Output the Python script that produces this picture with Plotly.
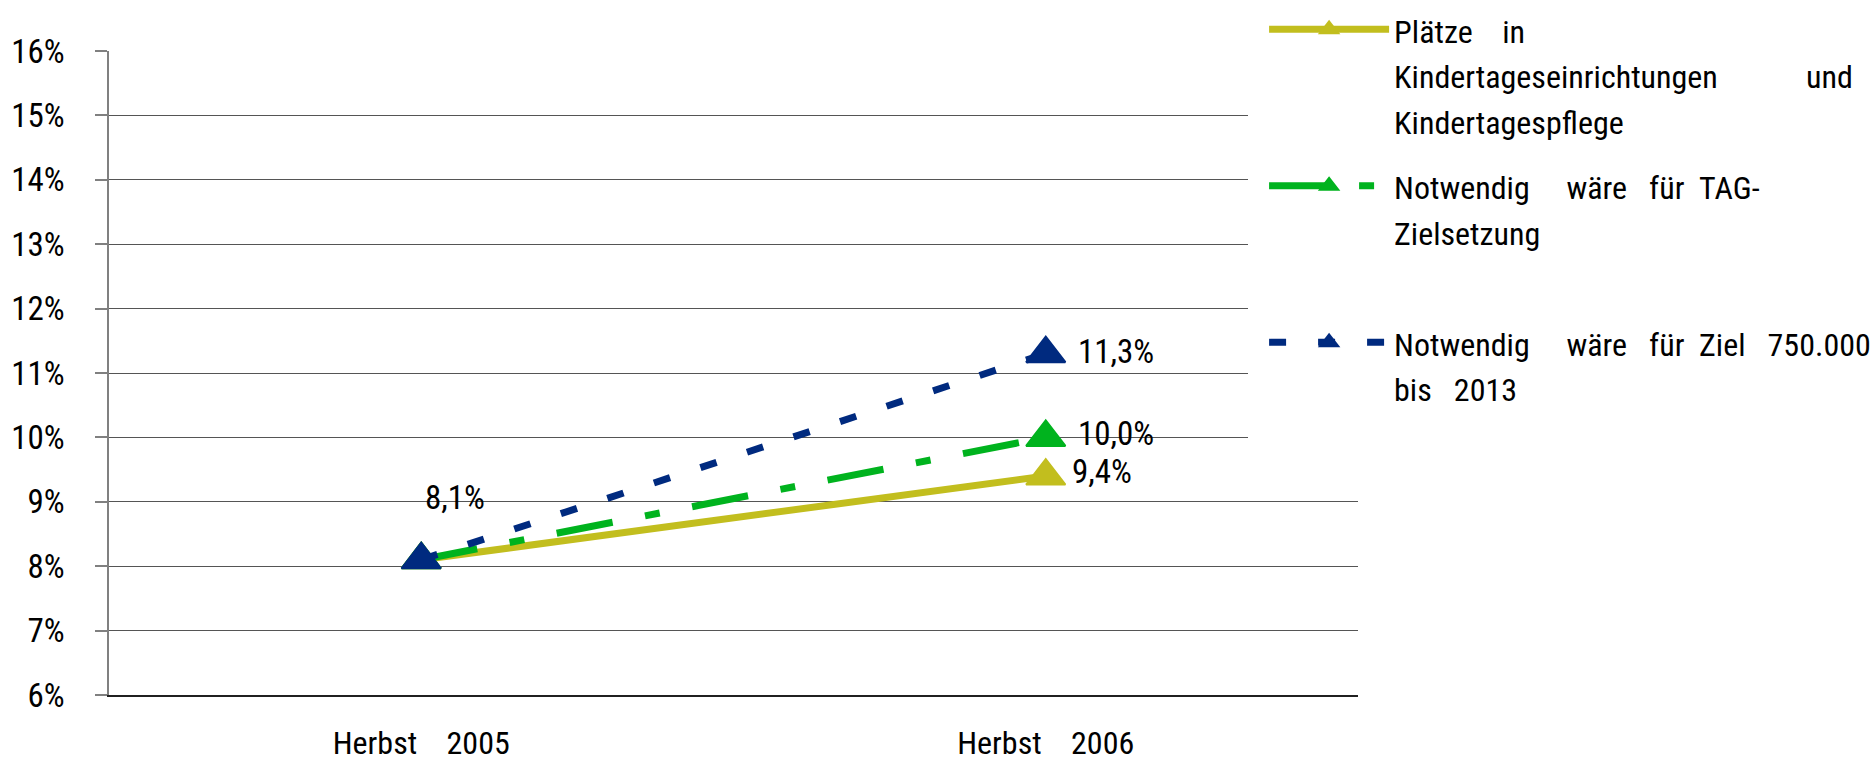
import plotly.graph_objects as go

# ---- data ----
categories = ["Herbst    2005", "Herbst    2006"]
plaetze = [8.1, 9.4]          # Plätze in Kindertageseinrichtungen und Kindertagespflege
tag_ziel = [8.1, 10.0]        # Notwendig wäre für TAG-Zielsetzung
ziel_750 = [8.1, 11.3]        # Notwendig wäre für Ziel 750.000 bis 2013
y_ticks = [6, 7, 8, 9, 10, 11, 12, 13, 14, 15, 16]

NB = "\u00a0"
legend_lines = {
    "plaetze": ["Plätze" + NB * 4 + "in",
                "Kindertageseinrichtungen" + NB * 12 + "und",
                "Kindertagespflege"],
    "tag": ["Notwendig" + NB * 5 + "wäre" + NB * 3 + "für" + NB * 2 + "TAG-",
            "Zielsetzung",
            NB],
    "ziel": ["Notwendig" + NB * 5 + "wäre" + NB * 3 + "für" + NB * 2 + "Ziel" +
             NB * 3 + "750.000",
             "bis" + NB * 3 + "2013",
             NB],
}


def legend_name(lines, px=32):
    # glyphs at px, line spacing taken from the (larger) legend font
    return "<br>".join(f'<span style="font-size:{px}px">{ln}</span>' for ln in lines)


FONT = "Roboto Condensed, Liberation Sans, Arial, sans-serif"
YELLOW = "#C2BE1E"
GREEN = "#00B31E"
NAVY = "#002A7F"

fig = go.Figure()

series = [
    (legend_name(legend_lines["plaetze"]), plaetze, YELLOW, "solid", "g1"),
    (legend_name(legend_lines["tag"]), tag_ziel, GREEN, "57px,33px,15px,33px", "g2"),
    (legend_name(legend_lines["ziel"]), ziel_750, NAVY, "17px,32px", "g3"),
]
for name, vals, col, dash, grp in series:
    fig.add_trace(go.Scatter(
        x=categories, y=vals, name=name, mode="lines+markers",
        legendgroup=grp,
        line=dict(color=col, width=7, dash=dash),
        marker=dict(symbol="triangle-up", size=34, color=col,
                    line=dict(color=col, width=2)),
        hoverinfo="skip",
    ))


def fmt(v):
    return f"{v:.1f}%".replace(".", ",")


fig.add_annotation(x=categories[0], y=ziel_750[0], text=fmt(ziel_750[0]),
                   showarrow=False, xanchor="left", yanchor="middle",
                   xshift=2, yshift=62, font=dict(family=FONT, size=33, color="black"))
for vals, dx, dy in [(ziel_750, 30, 2), (tag_ziel, 30, 4), (plaetze, 24, 5)]:
    fig.add_annotation(x=categories[1], y=vals[1], text=fmt(vals[1]),
                       showarrow=False, xanchor="left", yanchor="middle",
                       xshift=dx, yshift=dy, font=dict(family=FONT, size=33, color="black"))

fig.update_layout(
    width=1874, height=766,
    margin=dict(l=109, r=516, t=51, b=71, autoexpand=False),
    paper_bgcolor="white", plot_bgcolor="white",
    font=dict(family=FONT, size=32, color="black"),
    showlegend=True,
    legend=dict(
        x=0.912, xanchor="left", y=1.104, yanchor="top",
        bgcolor="white", bordercolor="white", borderwidth=16,
        font=dict(family=FONT, size=35, color="black"),
        itemwidth=120, valign="top", tracegroupgap=17, maxheight=740,
    ),
    xaxis=dict(
        type="category", range=[-0.5, 1.5],
        tickmode="array", tickvals=categories,
        ticktext=[c.replace(" ", NB) for c in categories],
        showgrid=False, zeroline=False,
        showline=True, linecolor="#202020", linewidth=1.5,
        ticks="", ticklabelstandoff=19,
        tickfont=dict(family=FONT, size=32, color="black"),
    ),
    yaxis=dict(
        range=[6, 16], tickmode="array", tickvals=y_ticks,
        ticktext=[f"{t}%" for t in y_ticks],
        showgrid=True, gridcolor="#555555", gridwidth=1.3,
        zeroline=False, showline=True, linecolor="#808080", linewidth=1.5,
        ticks="outside", ticklen=12, tickcolor="#808080", tickwidth=1.5,
        ticklabelstandoff=24,
        tickfont=dict(family=FONT, size=33, color="black"),
    ),
)

fig.write_html("out.html", config={"displayModeBar": False},
               post_script="document.body.style.margin='0px';")
